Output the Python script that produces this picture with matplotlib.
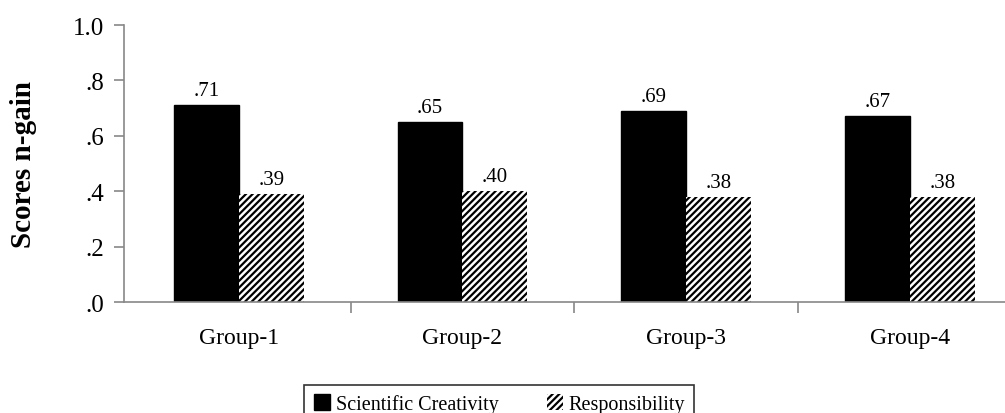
import matplotlib.pyplot as plt
import numpy as np
from matplotlib.ticker import FixedLocator

plt.rcParams['font.family'] = ['Liberation Serif', 'DejaVu Serif']
plt.rcParams['hatch.linewidth'] = 1.6

# dados
grupos = ['Group-1', 'Group-2', 'Group-3', 'Group-4']
criatividade = [0.71, 0.65, 0.69, 0.67]
responsabilidade = [0.39, 0.40, 0.38, 0.38]
rotulos_criat = ['.71', '.65', '.69', '.67']
rotulos_resp = ['.39', '.40', '.38', '.38']
yticks = [0.0, 0.2, 0.4, 0.6, 0.8, 1.0]
ytick_labels = ['.0', '.2', '.4', '.6', '.8', '1.0']

fig = plt.figure(figsize=(10.05, 4.14), dpi=100)
ax = fig.add_axes([0.1234, 0.268, 0.8766, 0.669])

x = np.arange(len(grupos))
w = 0.29
ax.bar(x - w / 2, criatividade, w, color='black', edgecolor='black',
       label='Scientific Creativity')
ax.bar(x + w / 2, responsabilidade, w, color='white', edgecolor='black',
       linewidth=0, hatch='/////', label='Responsibility')

for xi, v, t in zip(x - w / 2, criatividade, rotulos_criat):
    ax.text(xi, v + 0.018, t, ha='center', va='bottom', fontsize=15)
for xi, v, t in zip(x + w / 2, responsabilidade, rotulos_resp):
    ax.text(xi, v + 0.018, t, ha='center', va='bottom', fontsize=15)

ax.set_ylim(0, 1.0)
ax.set_xlim(-0.513, 3.425)
ax.set_yticks(yticks)
ax.set_yticklabels(ytick_labels, fontsize=18)
ax.set_xticks(x)
ax.set_xticklabels(grupos, fontsize=17)
ax.tick_params(axis='x', length=0, pad=18)
ax.tick_params(axis='y', length=7, color='#888888', width=1.2, pad=7)
ax.xaxis.set_minor_locator(FixedLocator([0.5, 1.5, 2.5]))
ax.tick_params(axis='x', which='minor', length=8, color='#888888', width=1.2)

for s in ['top', 'right']:
    ax.spines[s].set_visible(False)
for s in ['left', 'bottom']:
    ax.spines[s].set_color('#888888')
    ax.spines[s].set_linewidth(1.2)

ax.set_ylabel('Scores n-gain', fontsize=21, fontweight='bold', labelpad=26)

leg = fig.legend(loc='upper center', bbox_to_anchor=(0.497, 0.092), ncol=2,
                 fontsize=14.5, frameon=True, fancybox=False, edgecolor='black',
                 handlelength=0.8, handleheight=0.8, handletextpad=0.3,
                 columnspacing=2.4, borderpad=0.45)
leg.get_frame().set_linewidth(1.2)

plt.savefig('out.png', dpi=100)
plt.close()
